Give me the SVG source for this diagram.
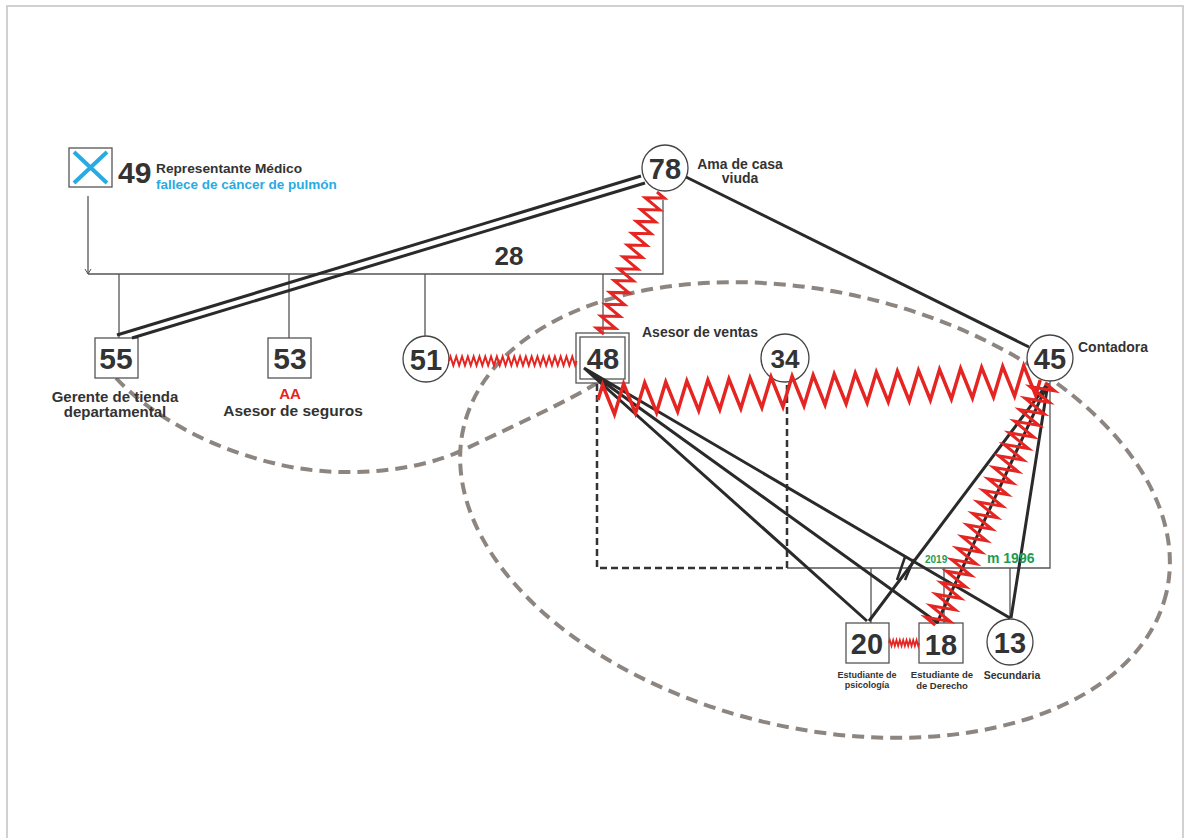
<svg xmlns="http://www.w3.org/2000/svg" width="1186" height="838" viewBox="0 0 1186 838">
<style>
text{font-family:"Liberation Sans",Arial,sans-serif;font-weight:bold;fill:#333}
.num{font-size:29px;text-anchor:middle}
.lbl{font-size:14px}
.mid{text-anchor:middle}
.small{font-size:9px;text-anchor:middle}
.box{fill:#fff;stroke:#555;stroke-width:1.3}
.circ{fill:#fff;stroke:#444;stroke-width:1.3}
.thin{fill:none;stroke:#555;stroke-width:1.3}
.solid{fill:none;stroke:#2a2a2a;stroke-width:3}
.zig{fill:none;stroke:#e52521;stroke-linejoin:miter}
.ell{fill:none;stroke:#8d8580;stroke-width:4;stroke-dasharray:12 7}
.green{fill:#1e9c50}
</style>
<defs>
<marker id="tip" markerWidth="8" markerHeight="8" refX="6" refY="4" orient="auto" markerUnits="userSpaceOnUse">
<path d="M1,1 L6,4 L1,7" fill="none" stroke="#555" stroke-width="1"/>
</marker>
</defs>
<rect x="0" y="0" width="1186" height="838" fill="#fff"/>
<rect x="7" y="6" width="1176" height="845" fill="none" stroke="#cfcbcc" stroke-width="1.8"/>

<g id="groups">
<ellipse class="ell" cx="815" cy="510" rx="361" ry="218" transform="rotate(13.3 815 510)"/>
<path class="ell" d="M116,378 C150,415 210,448 273,463 C330,478 410,475 463,450 C516,425 570,400 597,383"/>
</g>

<g id="nodes">
<g id="n49">
<rect class="box" x="69" y="148" width="43" height="39"/>
<path d="M74,152 L107,183 M107,152 L74,183" stroke="#29abe2" stroke-width="4" fill="none"/>
<text x="118" y="183" style="font-size:30px">49</text>
<text x="156" y="173" style="font-size:13.7px">Representante Médico</text>
<text x="156" y="189" style="font-size:13.5px;fill:#29abe2">fallece de cáncer de pulmón</text>
</g>
<g id="n78">
<circle class="circ" cx="665" cy="168" r="23"/>
<text class="num" x="665" y="179">78</text>
<text class="mid" x="740" y="169" style="font-size:14px">Ama de casa</text>
<text class="mid" x="740" y="183" style="font-size:14px">viuda</text>
</g>
<g id="n55">
<rect class="box" x="95" y="338" width="43" height="40"/>
<text class="num" x="116" y="369" style="font-size:30px">55</text>
<text class="mid" x="115" y="402" style="font-size:15px">Gerente de tienda</text>
<text class="mid" x="115" y="417" style="font-size:15px">departamental</text>
</g>
<g id="n53">
<rect class="box" x="268" y="338" width="43" height="40"/>
<text class="num" x="290" y="369" style="font-size:30px">53</text>
<text class="mid" x="290" y="399" style="font-size:15px;fill:#e52521">AA</text>
<text class="mid" x="293" y="416" style="font-size:15.5px">Asesor de seguros</text>
</g>
<g id="n51">
<circle class="circ" cx="426" cy="359" r="23"/>
<text class="num" x="426" y="370">51</text>
</g>
<g id="n48">
<rect class="box" x="576" y="333" width="53" height="50"/>
<rect class="box" x="580" y="337" width="45" height="42"/>
<text class="num" x="603" y="369">48</text>
<text class="lbl" x="642" y="337">Asesor de ventas</text>
</g>
<g id="n34">
<circle class="circ" cx="785" cy="358" r="24"/>
<text class="num" x="785" y="368" style="font-size:26px">34</text>
</g>
<g id="n45">
<circle class="circ" cx="1050" cy="358" r="23"/>
<text class="num" x="1050" y="369">45</text>
<text class="lbl" x="1078" y="352">Contadora</text>
</g>
<g id="n20">
<rect class="box" x="846" y="623" width="43" height="40"/>
<text class="num" x="867" y="654">20</text>
<text class="small" x="867" y="678">Estudiante de</text>
<text class="small" x="867" y="688">psicología</text>
</g>
<g id="n18">
<rect class="box" x="919" y="623" width="44" height="40"/>
<text class="num" x="941" y="655">18</text>
<text class="small" x="942" y="678" style="font-size:9.5px">Estudiante de</text>
<text class="small" x="942" y="689" style="font-size:9.5px">de Derecho</text>
</g>
<g id="n13">
<circle class="circ" cx="1010" cy="642" r="23"/>
<text class="num" x="1010" y="653">13</text>
<text class="mid" x="1012" y="679" style="font-size:10.5px">Secundaria</text>
</g>
</g>

<g id="connectors">
<path class="thin" d="M88,196 V274" marker-end="url(#tip)"/>
<path class="thin" d="M88,274 H663 V200"/>
<path class="thin" d="M119,274 V338 M289,274 V338 M425,274 V336 M603,274 V333"/>
<path class="thin" d="M787,568 H1050 V381"/>
<path class="thin" d="M871,568 V623 M944,568 V623 M1010,568 V619"/>
<path d="M597,384 V568 H787 V383" fill="none" stroke="#333" stroke-width="2.5" stroke-dasharray="7 4"/>
<path class="solid" d="M641,176 L117,335"/>
<path class="solid" d="M645,183 L132,338"/>
<path class="solid" d="M686,177 L1029,347"/>
<path class="solid" d="M584,368 L867,621 M584,368 L938,623 M584,368 L1010,618"/>
<path class="solid" d="M1048,383 L869,621 M1048,383 L937,623 M1048,383 L1011,618"/>
<path d="M905,557 L897,580 M914,559 L905,580" stroke="#2a2a2a" stroke-width="2.5" fill="none"/>
<path class="zig" stroke-width="2" transform="translate(449,361)" d="M0,0 l1.45,-4.5 l2.9,9 l2.9,-9 l2.9,9 l2.9,-9 l2.9,9 l2.9,-9 l2.9,9 l2.9,-9 l2.9,9 l2.9,-9 l2.9,9 l2.9,-9 l2.9,9 l2.9,-9 l2.9,9 l2.9,-9 l2.9,9 l2.9,-9 l2.9,9 l2.9,-9 l2.9,9 l2.9,-9 l2.9,9 l2.9,-9 l2.9,9 l2.9,-9 l2.9,9 l2.9,-9 l2.9,9 l2.9,-9 l2.9,9 l2.9,-9 l2.9,9 l2.9,-9 l2.9,9 l2.9,-9 l2.9,9 l2.9,-9 l2.9,9 l2.9,-9 l2.9,9 l2.9,-9 l2.9,9 l1.45,-4.5"/>
<path class="zig" stroke-width="3" transform="translate(657,192) rotate(110.5)" d="M0,0 l3.16,-9 l6.32,18 l6.32,-18 l6.32,18 l6.32,-18 l6.32,18 l6.32,-18 l6.32,18 l6.32,-18 l6.32,18 l6.32,-18 l6.32,18 l6.32,-18 l6.32,18 l6.32,-18 l6.32,18 l6.32,-18 l6.32,18 l6.32,-18 l6.32,18 l6.32,-18 l6.32,18 l6.32,-18 l6.32,18 l3.16,-9"/>
<path class="zig" stroke-width="3.5" transform="translate(598,400) rotate(-2.6)" d="M0,0 l5.27,-15 l10.54,30 l10.54,-30 l10.54,30 l10.54,-30 l10.54,30 l10.54,-30 l10.54,30 l10.54,-30 l10.54,30 l10.54,-30 l10.54,30 l10.54,-30 l10.54,30 l10.54,-30 l10.54,30 l10.54,-30 l10.54,30 l10.54,-30 l10.54,30 l10.54,-30 l10.54,30 l10.54,-30 l10.54,30 l10.54,-30 l10.54,30 l10.54,-30 l10.54,30 l10.54,-30 l10.54,30 l10.54,-30 l10.54,30 l10.54,-30 l10.54,30 l10.54,-30 l10.54,30 l10.54,-30 l10.54,30 l10.54,-30 l10.54,30 l10.54,-30 l10.54,30 l5.27,-15"/>
<path class="zig" stroke-width="3" transform="translate(1045,383) rotate(114.4)" d="M0,0 l3.17,-12 l6.33,24 l6.33,-24 l6.33,24 l6.33,-24 l6.33,24 l6.33,-24 l6.33,24 l6.33,-24 l6.33,24 l6.33,-24 l6.33,24 l6.33,-24 l6.33,24 l6.33,-24 l6.33,24 l6.33,-24 l6.33,24 l6.33,-24 l6.33,24 l6.33,-24 l6.33,24 l6.33,-24 l6.33,24 l6.33,-24 l6.33,24 l6.33,-24 l6.33,24 l6.33,-24 l6.33,24 l6.33,-24 l6.33,24 l6.33,-24 l6.33,24 l6.33,-24 l6.33,24 l6.33,-24 l6.33,24 l6.33,-24 l6.33,24 l6.33,-24 l6.33,24 l3.17,-12"/>
<path class="zig" stroke-width="1.8" transform="translate(889,643)" d="M0,0 l0.83,-3 l1.67,6 l1.67,-6 l1.67,6 l1.67,-6 l1.67,6 l1.67,-6 l1.67,6 l1.67,-6 l1.67,6 l1.67,-6 l1.67,6 l1.67,-6 l1.67,6 l1.67,-6 l1.67,6 l1.67,-6 l1.67,6 l0.83,-3"/>
</g>

<g id="annotations">
<text class="mid" x="509" y="265" style="font-size:26px">28</text>
<text class="green" x="925" y="563" style="font-size:10px">2019</text>
<text class="green" x="987" y="563" style="font-size:14px">m 1996</text>
</g>
</svg>
